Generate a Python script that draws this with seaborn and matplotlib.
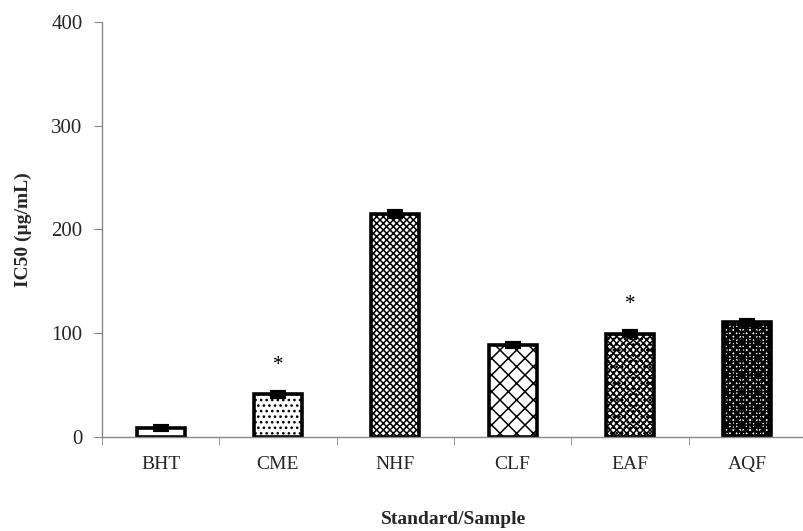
import matplotlib
matplotlib.use("Agg")
import matplotlib.pyplot as plt
import seaborn as sns
import pandas as pd

categories = ["BHT", "CME", "NHF", "CLF", "EAF", "AQF"]
ic50 = [8.7, 41, 215, 89, 99.5, 110.5]
errors = [2.0, 2.5, 2.5, 2.0, 2.5, 2.5]
significant = [False, True, False, False, True, False]
hatches = ["", "...", "xxxxx", "xx", "xxxxx...", "+++++xxxx"]

sns.set_style("white")
plt.rcParams["font.family"] = ["Liberation Serif", "DejaVu Serif"]
plt.rcParams["hatch.linewidth"] = 1.1

df = pd.DataFrame({"cat": categories, "val": ic50})

fig = plt.figure(figsize=(8.04, 5.31), dpi=100)
ax = fig.add_axes([102 / 804, 1 - 437 / 531, 704 / 804, 415 / 531])

sns.barplot(data=df, x="cat", y="val", color="white", width=0.41,
            edgecolor="black", linewidth=2.6, ax=ax, errorbar=None)
for p, h in zip(ax.patches, hatches):
    p.set_hatch(h)
    p.set_facecolor("white")
    p.set_edgecolor("black")

ax.errorbar(range(len(categories)), ic50, yerr=errors, fmt="none",
            ecolor="black", elinewidth=2, capsize=6, capthick=3, zorder=5)

for i, (v, s) in enumerate(zip(ic50, significant)):
    if s:
        ax.text(i, v + 19, "*", ha="center", va="bottom", fontsize=15, color="black")

ax.set_xlim(-0.5, 5.5)
ax.set_ylim(0, 400)
ax.set_yticks([0, 100, 200, 300, 400])
ax.tick_params(axis="y", labelsize=15, length=6, color="#888888", direction="out", left=True, pad=8)
ax.set_xticks(range(6))
ax.set_xticklabels(categories)
ax.tick_params(axis="x", labelsize=14, length=0, pad=14)
ax.set_xticks([i + 0.5 for i in range(-1, 6)], minor=True)
ax.tick_params(axis="x", which="minor", length=6, color="#888888", direction="out", bottom=True)

for s in ["top", "right"]:
    ax.spines[s].set_visible(False)
for s in ["left", "bottom"]:
    ax.spines[s].set_color("#888888")
    ax.spines[s].set_linewidth(1)

ax.set_xlabel("Standard/Sample", fontsize=14, fontweight="bold", labelpad=27)
ax.set_ylabel("IC50 (µg/mL)", fontsize=14, fontweight="bold", labelpad=14)

fig.savefig("out.png", dpi=100)
